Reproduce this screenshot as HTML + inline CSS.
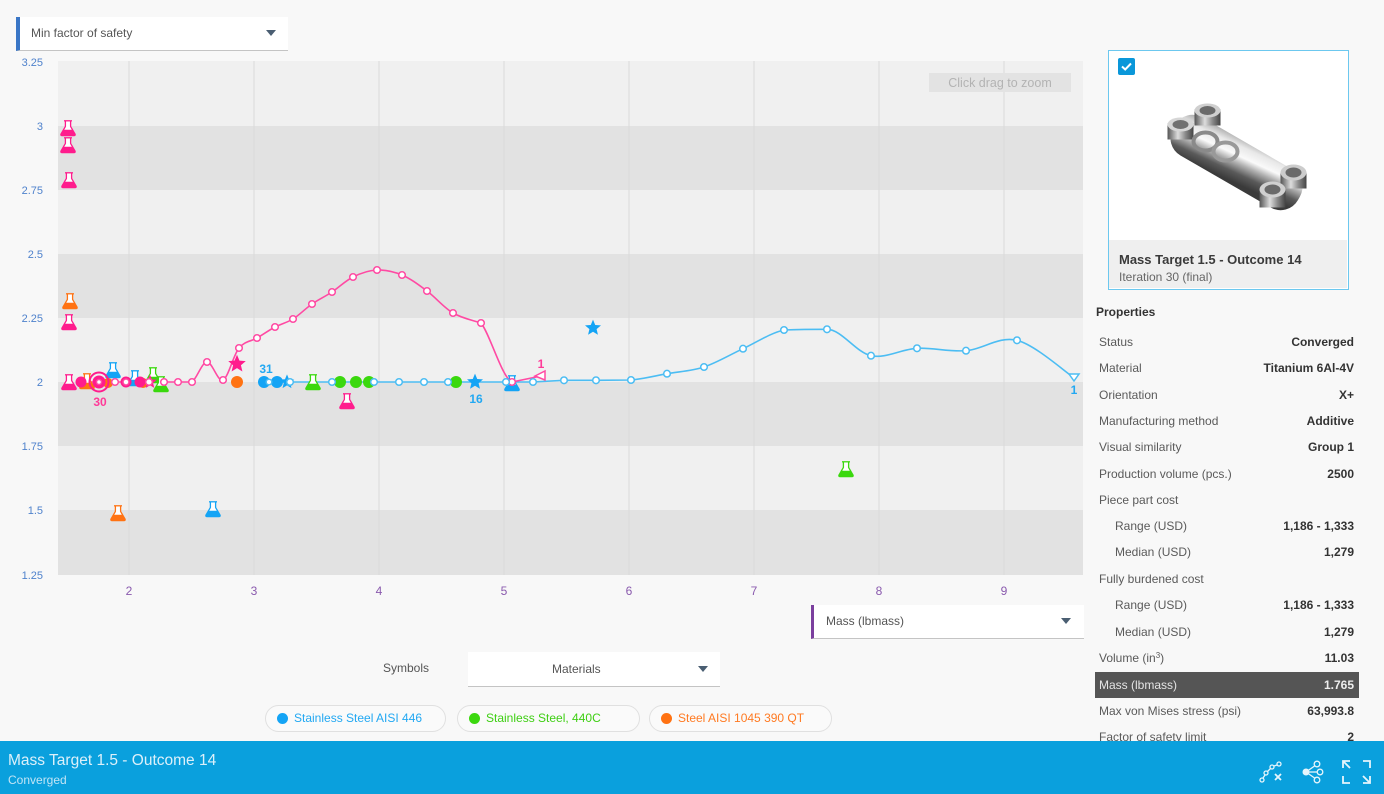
<!DOCTYPE html>
<html><head><meta charset="utf-8">
<style>
*{margin:0;padding:0;box-sizing:border-box}
body{width:1384px;height:794px;overflow:hidden;background:#f8f8f8;font-family:"Liberation Sans",sans-serif;position:relative;color:#555}
.abs{position:absolute}
.dd{position:absolute;background:#fff;border-bottom:1px solid #c4c4c4;font-size:12px;color:#555}
.tri{position:absolute;width:0;height:0;border-left:5.5px solid transparent;border-right:5.5px solid transparent;border-top:6px solid #4a5e72}
.row{position:absolute;left:1095px;width:264px;height:26px;line-height:26px;font-size:12px}
.row .l{position:absolute;left:4px;color:#5a5a5a}
.row .l.i{left:20px}
.row .v{position:absolute;right:5px;font-weight:bold;color:#333}
.row sup{font-size:8px;line-height:0;vertical-align:0;position:relative;top:-4px}
.chip{position:absolute;top:705px;height:27px;border:1px solid #e0e0e0;border-radius:14px;background:#fafafa;font-size:12px;line-height:25px}
.chip i{position:absolute;left:11px;top:7px;width:11px;height:11px;border-radius:50%}
.chip span{position:absolute;left:28px}
</style></head>
<body>

<svg class="abs" style="left:0;top:0" width="1090" height="741" viewBox="0 0 1090 741">
<defs>
<g id="flask">
<path d="M-2.6,-7 V-1.5 L-7,6 Q-7.6,7.6 -5.8,7.6 H5.8 Q7.6,7.6 7,6 L2.6,-1.5 V-7" fill="#fff" stroke="currentColor" stroke-width="1.3"/>
<path d="M-4.6,1.8 L-7,6 Q-7.6,7.6 -5.8,7.6 H5.8 Q7.6,7.6 7,6 L4.6,1.8 Z" fill="currentColor"/>
<line x1="-4" x2="4" y1="-7.2" y2="-7.2" stroke="currentColor" stroke-width="1.3"/>
</g>
<path id="star" d="M0,-8 L2.12,-2.91 L7.61,-2.47 L3.42,1.11 L4.70,6.47 L0,3.6 L-4.70,6.47 L-3.42,1.11 L-7.61,-2.47 L-2.12,-2.91 Z"/>
</defs>
<!-- bands -->
<rect x="58" y="61" width="1025" height="65" fill="#f0f0f0"/>
<rect x="58" y="126" width="1025" height="64" fill="#e2e2e2"/>
<rect x="58" y="190" width="1025" height="64" fill="#f0f0f0"/>
<rect x="58" y="254" width="1025" height="64" fill="#e2e2e2"/>
<rect x="58" y="318" width="1025" height="64" fill="#f0f0f0"/>
<rect x="58" y="382" width="1025" height="64" fill="#e2e2e2"/>
<rect x="58" y="446" width="1025" height="64" fill="#f0f0f0"/>
<rect x="58" y="510" width="1025" height="65" fill="#e2e2e2"/>
<g stroke="#dadada" stroke-width="1">
<line x1="129" x2="129" y1="61" y2="575"/><line x1="254" x2="254" y1="61" y2="575"/>
<line x1="379" x2="379" y1="61" y2="575"/><line x1="504" x2="504" y1="61" y2="575"/>
<line x1="629" x2="629" y1="61" y2="575"/><line x1="754" x2="754" y1="61" y2="575"/>
<line x1="879" x2="879" y1="61" y2="575"/><line x1="1004" x2="1004" y1="61" y2="575"/>
</g>
<!-- y labels -->
<g font-size="11" fill="#4f82cc" text-anchor="end" font-family="Liberation Sans, sans-serif">
<text x="43" y="66">3.25</text><text x="43" y="130">3</text><text x="43" y="194">2.75</text>
<text x="43" y="258">2.5</text><text x="43" y="322">2.25</text><text x="43" y="386">2</text>
<text x="43" y="450">1.75</text><text x="43" y="514">1.5</text><text x="43" y="579">1.25</text>
</g>
<g font-size="12" fill="#8a5aae" text-anchor="middle" font-family="Liberation Sans, sans-serif">
<text x="129" y="595">2</text><text x="254" y="595">3</text><text x="379" y="595">4</text><text x="504" y="595">5</text>
<text x="629" y="595">6</text><text x="754" y="595">7</text><text x="879" y="595">8</text><text x="1004" y="595">9</text>
</g>
<!-- zoom hint -->
<rect x="929" y="73" width="142" height="19" fill="#e3e3e3"/>
<text x="1000" y="87" font-size="12.5" fill="#b3b3b3" text-anchor="middle" font-family="Liberation Sans, sans-serif">Click drag to zoom</text>

<!-- lines -->
<path d="M264,382 L533,382 L564,380.3 L596,380.3 L631,380 C642.8,378.9 654.8,375.9 667,373.7 C679.2,371.5 691.3,371.2 704,367 C716.7,362.8 729.7,354.9 743,348.7 C756.3,342.5 770,333.2 784,330 C798,329.5 812,329.3 827,329.3 C841.5,329.3 856,352.5 871,355.7 C886,358.9 901.2,349.1 917,348.3 C932.8,347.5 949.3,352 966,350.7 C982.7,349.4 999,335.8 1017,340.3 C1035,344.8 1064.5,371.5 1074,377.7" fill="none" stroke="#4cbdf3" stroke-width="1.6"/>
<path d="M82,382 L192,382 C196.8,378.7 201.8,362.3 207,362 C212.2,361.7 217.7,382.3 223,380 C228.3,377.7 233.3,355 239,348 C244.7,341 251,341.5 257,338 C263,334.5 269,330.2 275,327 C281,323.8 286.8,322.8 293,319 C299.2,315.2 305.5,308.5 312,304 C318.5,299.5 325.2,296.5 332,292 C338.8,287.5 345.5,280.7 353,277 C360.5,273.3 368.8,270.3 377,270 C385.2,269.7 393.7,271.5 402,275 C410.3,278.5 418.5,284.7 427,291 C435.5,297.3 444,307.7 453,313 C462,318.3 472,320 481,323 C490,334 502,378 512,382 L541,376" fill="none" stroke="#ff4aa3" stroke-width="1.6"/>

<!-- flasks -->
<g style="color:#ff1c8d">
<use href="#flask" x="68" y="128"/><use href="#flask" x="68" y="145"/><use href="#flask" x="69" y="180"/>
<use href="#flask" x="69" y="322"/><use href="#flask" x="69" y="382"/><use href="#flask" x="347" y="401"/>
</g>
<g style="color:#ff7212">
<use href="#flask" x="70" y="301"/><use href="#flask" x="118" y="513"/><use href="#flask" x="87" y="381"/>
</g>
<g style="color:#14a4f5">
<use href="#flask" x="113" y="370"/><use href="#flask" x="135" y="378"/><use href="#flask" x="213" y="509"/><use href="#flask" x="512" y="383"/>
</g>
<g style="color:#3bd80e">
<use href="#flask" x="153" y="375"/><use href="#flask" x="161" y="384"/><use href="#flask" x="313" y="382"/><use href="#flask" x="846" y="469"/>
</g>

<!-- filled markers -->
<circle cx="108" cy="383" r="5" fill="#ff7212"/>
<circle cx="143" cy="383" r="5" fill="#ff7212"/>
<circle cx="237" cy="382" r="6" fill="#ff7212"/>
<circle cx="81" cy="382" r="5.5" fill="#ff1c8d"/>
<circle cx="126" cy="382" r="5.5" fill="#ff1c8d"/>
<circle cx="140" cy="382" r="5.5" fill="#ff1c8d"/>
<circle cx="99" cy="382" r="9.5" fill="none" stroke="#ff1c8d" stroke-width="2"/>
<circle cx="99" cy="382" r="6.5" fill="#ff1c8d"/>
<use href="#star" transform="translate(150,382) scale(0.9)" fill="#ff1c8d"/>
<use href="#star" transform="translate(237,364) scale(1.15)" fill="#ff1c8d"/>
<circle cx="264" cy="382" r="6" fill="#14a4f5"/>
<circle cx="277" cy="382" r="6" fill="#14a4f5"/>
<use href="#star" transform="translate(287,382) scale(0.95)" fill="#14a4f5"/>
<use href="#star" transform="translate(475,382) scale(1.05)" fill="#14a4f5"/>
<use href="#star" transform="translate(593,328) scale(1.05)" fill="#14a4f5"/>
<g fill="#3bd80e"><circle cx="340" cy="382" r="6"/><circle cx="356" cy="382" r="6"/><circle cx="369" cy="382" r="6"/><circle cx="456" cy="382" r="6"/></g>

<!-- open circles pink -->
<g fill="#fff" stroke="#ff4aa3" stroke-width="1.5">
<circle cx="99" cy="382" r="2.5"/><circle cx="115" cy="382" r="3.3"/><circle cx="126" cy="382" r="3"/><circle cx="149" cy="382" r="3.3"/><circle cx="164" cy="382" r="3.3"/>
<circle cx="178" cy="382" r="3.3"/><circle cx="192" cy="382" r="3.3"/><circle cx="207" cy="362" r="3.3"/><circle cx="223" cy="380" r="3.3"/>
<circle cx="239" cy="348" r="3.3"/><circle cx="257" cy="338" r="3.3"/><circle cx="275" cy="327" r="3.3"/><circle cx="293" cy="319" r="3.3"/>
<circle cx="312" cy="304" r="3.3"/><circle cx="332" cy="292" r="3.3"/><circle cx="353" cy="277" r="3.3"/><circle cx="377" cy="270" r="3.3"/>
<circle cx="402" cy="275" r="3.3"/><circle cx="427" cy="291" r="3.3"/><circle cx="453" cy="313" r="3.3"/><circle cx="481" cy="323" r="3.3"/>
<circle cx="512" cy="382" r="3.3"/>
<path d="M535,376 L545,371 L545,380 Z"/>
</g>
<!-- open circles blue -->
<g fill="#fff" stroke="#4cbdf3" stroke-width="1.5">
<circle cx="269" cy="382" r="2.8"/><circle cx="290" cy="382" r="3.3"/><circle cx="332" cy="382" r="3.3"/><circle cx="374" cy="382" r="3.3"/><circle cx="399" cy="382" r="3.3"/>
<circle cx="424" cy="382" r="3.3"/><circle cx="448" cy="382" r="3.3"/><circle cx="506" cy="382" r="3.3"/><circle cx="533" cy="382" r="3.3"/>
<circle cx="564" cy="380.3" r="3.3"/><circle cx="596" cy="380.3" r="3.3"/><circle cx="631" cy="380" r="3.3"/><circle cx="667" cy="373.7" r="3.3"/>
<circle cx="704" cy="367" r="3.3"/><circle cx="743" cy="348.7" r="3.3"/><circle cx="784" cy="330" r="3.3"/><circle cx="827" cy="329.3" r="3.3"/>
<circle cx="871" cy="355.7" r="3.3"/><circle cx="917" cy="348.3" r="3.3"/><circle cx="966" cy="350.7" r="3.3"/><circle cx="1017" cy="340.3" r="3.3"/>
<path d="M1069,374 L1079,374 L1074,381 Z"/>
</g>
<!-- labels -->
<g font-size="12" font-weight="bold" font-family="Liberation Sans, sans-serif">
<text x="100" y="406" fill="#ff3a98" text-anchor="middle">30</text>
<text x="541" y="368" fill="#ff3a98" text-anchor="middle">1</text>
<text x="266" y="373" fill="#22a8f2" text-anchor="middle">31</text>
<text x="476" y="403" fill="#22a8f2" text-anchor="middle">16</text>
<text x="1074" y="394" fill="#22a8f2" text-anchor="middle">1</text>
</g>
</svg>

<!-- top-left dropdown -->
<div class="dd" style="left:16px;top:17px;width:272px;height:34px;border-left:4px solid #3a76c6">
<span class="abs" style="left:11px;top:9px">Min factor of safety</span>
<div class="tri" style="left:246px;top:13px"></div>
</div>

<!-- mass dropdown -->
<div class="dd" style="left:811px;top:605px;width:273px;height:34px;border-left:3px solid #7b3f9e">
<span class="abs" style="left:12px;top:9px">Mass (lbmass)</span>
<div class="tri" style="left:247px;top:13px"></div>
</div>

<!-- symbols -->
<div class="abs" style="left:383px;top:661px;font-size:12px;color:#555">Symbols</div>
<div class="dd" style="left:468px;top:652px;width:252px;height:35px">
<span class="abs" style="left:84px;top:10px">Materials</span>
<div class="tri" style="left:230px;top:14px"></div>
</div>

<!-- legend chips -->
<div class="chip" style="left:265px;width:181px"><i style="background:#14a4f5"></i><span style="color:#22a8f2">Stainless Steel AISI 446</span></div>
<div class="chip" style="left:457px;width:183px"><i style="background:#3bd80e"></i><span style="color:#3fcf14">Stainless Steel, 440C</span></div>
<div class="chip" style="left:649px;width:183px"><i style="background:#ff7212"></i><span style="color:#ff7a22">Steel AISI 1045 390 QT</span></div>

<!-- card -->
<div class="abs" style="left:1108px;top:50px;width:241px;height:240px;border:1.5px solid #6cc8ef;background:#fff">
<div class="abs" style="left:0;top:189px;width:238px;height:48px;background:#efefef"></div>
<div class="abs" style="left:9px;top:7px;width:17px;height:17px;background:#0a97d9;border-radius:2px">
<svg width="17" height="17"><path d="M4,8.5 L7.2,11.5 L13,5.5" fill="none" stroke="#fff" stroke-width="2"/></svg>
</div>
<div class="abs" style="left:10px;top:201px;font-size:13px;font-weight:bold;color:#3a3a3a">Mass Target 1.5 - Outcome 14</div>
<div class="abs" style="left:10px;top:219px;font-size:12px;color:#666">Iteration 30 (final)</div>
<svg class="abs" style="left:0;top:0" width="238" height="189" viewBox="1109.5 51.5 238 189">
<defs>
<linearGradient id="mg" x1="0" y1="0" x2="0.3" y2="1">
<stop offset="0" stop-color="#9a9a9a"/><stop offset="0.25" stop-color="#e8e8e8"/><stop offset="0.45" stop-color="#fafafa"/>
<stop offset="0.6" stop-color="#b0b0b0"/><stop offset="0.8" stop-color="#5a5a5a"/><stop offset="1" stop-color="#3a3a3a"/>
</linearGradient>
<linearGradient id="cy" x1="0" y1="0" x2="1" y2="0">
<stop offset="0" stop-color="#555"/><stop offset="0.4" stop-color="#ddd"/><stop offset="0.7" stop-color="#888"/><stop offset="1" stop-color="#444"/>
</linearGradient>
</defs>
<g transform="translate(1237,163) rotate(30)">
<rect x="-72" y="-22" width="144" height="44" rx="20" fill="url(#mg)"/>
</g>
<rect x="1195" y="110" width="26" height="16" fill="url(#cy)"/>
<ellipse cx="1208" cy="111" rx="13" ry="7" fill="#cfcfcf"/><ellipse cx="1208" cy="111" rx="8" ry="4.5" fill="#6a6a6a"/>
<rect x="1168" y="124" width="26" height="16" fill="url(#cy)"/>
<ellipse cx="1181" cy="125" rx="13" ry="7" fill="#d6d6d6"/><ellipse cx="1181" cy="125" rx="8" ry="4.5" fill="#707070"/>
<ellipse cx="1206" cy="142" rx="12" ry="9" fill="none" stroke="#8a8a8a" stroke-width="4"/>
<ellipse cx="1226" cy="152" rx="12" ry="9" fill="none" stroke="#999" stroke-width="4"/>
<rect x="1281" y="173" width="26" height="16" fill="url(#cy)"/>
<ellipse cx="1294" cy="173" rx="13" ry="8" fill="#ccc"/><ellipse cx="1294" cy="173" rx="8" ry="5" fill="#6a6a6a"/>
<rect x="1260" y="190" width="26" height="18" fill="url(#cy)"/>
<ellipse cx="1273" cy="190" rx="13" ry="8" fill="#d0d0d0"/><ellipse cx="1273" cy="190" rx="8" ry="5" fill="#6a6a6a"/>
</svg>
</div>

<!-- properties -->
<div class="abs" style="left:1096px;top:305px;font-size:12px;font-weight:bold;color:#333">Properties</div>
<div class="row" style="top:329px"><span class="l">Status</span><span class="v">Converged</span></div>
<div class="row" style="top:355px"><span class="l">Material</span><span class="v">Titanium 6Al-4V</span></div>
<div class="row" style="top:382px"><span class="l">Orientation</span><span class="v">X+</span></div>
<div class="row" style="top:408px"><span class="l">Manufacturing method</span><span class="v">Additive</span></div>
<div class="row" style="top:434px"><span class="l">Visual similarity</span><span class="v">Group 1</span></div>
<div class="row" style="top:461px"><span class="l">Production volume (pcs.)</span><span class="v">2500</span></div>
<div class="row" style="top:487px"><span class="l">Piece part cost</span></div>
<div class="row" style="top:513px"><span class="l i">Range (USD)</span><span class="v">1,186 - 1,333</span></div>
<div class="row" style="top:539px"><span class="l i">Median (USD)</span><span class="v">1,279</span></div>
<div class="row" style="top:566px"><span class="l">Fully burdened cost</span></div>
<div class="row" style="top:592px"><span class="l i">Range (USD)</span><span class="v">1,186 - 1,333</span></div>
<div class="row" style="top:619px"><span class="l i">Median (USD)</span><span class="v">1,279</span></div>
<div class="row" style="top:645px"><span class="l">Volume (in<sup>3</sup>)</span><span class="v">11.03</span></div>
<div class="row" style="top:672px;background:#555"><span class="l" style="color:#e4e4e4">Mass (lbmass)</span><span class="v" style="color:#eee">1.765</span></div>
<div class="row" style="top:698px"><span class="l">Max von Mises stress (psi)</span><span class="v">63,993.8</span></div>
<div class="row" style="top:724px"><span class="l">Factor of safety limit</span><span class="v">2</span></div>

<!-- bottom bar -->
<div class="abs" style="left:0;top:741px;width:1384px;height:53px;background:#0aa0dd">
<div class="abs" style="left:8px;top:11px;font-size:15.5px;color:#dcf0fa">Mass Target 1.5 - Outcome 14</div>
<div class="abs" style="left:8px;top:32px;font-size:12px;color:#c2e4f5">Converged</div>
<svg class="abs" style="left:1250px;top:10px" width="134" height="43">
<g fill="none" stroke="#e6f5fc" stroke-width="1.3">
<circle cx="12" cy="29" r="2"/><circle cx="16" cy="22" r="2"/><circle cx="22" cy="16" r="2"/><circle cx="29" cy="13" r="2"/>
<line x1="13" y1="27" x2="15" y2="24"/><line x1="17.5" y1="20.5" x2="20.5" y2="17.5"/><line x1="24" y1="15" x2="27" y2="14"/>
<line x1="25" y1="23" x2="31" y2="29" stroke-width="1.8"/><line x1="31" y1="23" x2="25" y2="29" stroke-width="1.8"/>
<line x1="56" y1="21" x2="66" y2="14"/><line x1="56" y1="21" x2="68" y2="21"/><line x1="56" y1="21" x2="66" y2="28"/>
<circle cx="67" cy="13" r="2.8" fill="#0aa0dd"/><circle cx="70" cy="21" r="2.8" fill="#0aa0dd"/><circle cx="67" cy="29" r="2.8" fill="#0aa0dd"/>
<path d="M93,17 V10 H100 M93,10 L100,17" stroke-width="1.8"/>
<path d="M113,10 H120 V17" stroke-width="1.8"/>
<path d="M93,25 V32 H100" stroke-width="1.8"/>
<path d="M120,25 V32 H113 M120,32 L113,25" stroke-width="1.8"/>
</g>
<circle cx="56" cy="21" r="3.5" fill="#e6f5fc"/>
</svg>
</div>

</body></html>
